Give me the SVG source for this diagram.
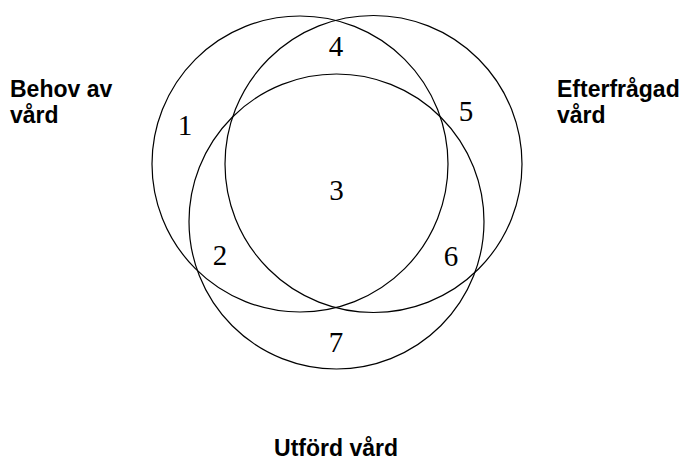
<svg xmlns="http://www.w3.org/2000/svg" width="688" height="457" viewBox="0 0 688 457">
<style>
.c{fill:none;stroke:#000;stroke-width:1.2}
.n{font-family:"Liberation Serif",serif;font-size:29px;fill:#000;text-anchor:middle}
.t{font-family:"Liberation Sans",Arial,sans-serif;font-size:23px;font-weight:bold;fill:#000}
</style>
<rect width="688" height="457" fill="#fff"/>
<g id="behov"><circle class="c" cx="300" cy="164" r="148"/><text class="t" x="10" y="97">Behov av</text><text class="t" x="10" y="123">vård</text></g>
<g id="efterfragad"><circle class="c" cx="373.5" cy="164" r="148.5"/><text class="t" x="557" y="97">Efterfrågad</text><text class="t" x="557" y="123">vård</text></g>
<g id="utford"><circle class="c" cx="336.5" cy="221.5" r="147.5"/><text class="t" x="336" y="456" text-anchor="middle">Utförd vård</text></g>
<g id="regions">
<text class="n" x="185" y="135">1</text>
<text class="n" x="220" y="265">2</text>
<text class="n" x="336.5" y="200">3</text>
<text class="n" x="336" y="56">4</text>
<text class="n" x="466" y="121">5</text>
<text class="n" x="451" y="266">6</text>
<text class="n" x="336" y="352">7</text>
</g>
<g id="connectors"/>
</svg>
